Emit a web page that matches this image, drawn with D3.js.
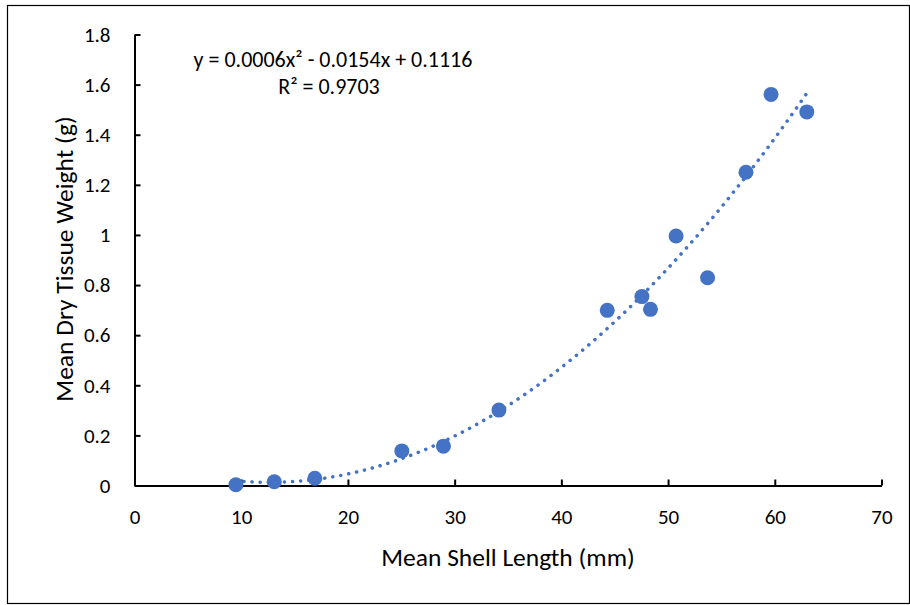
<!DOCTYPE html>
<html>
<head>
<meta charset="utf-8">
<script src="https://cdn.jsdelivr.net/npm/d3@7"></script>
<style>
  body { margin: 0; background: #fff; }
  text { font-family: Carlito, Calibri, Lato, sans-serif; fill: #000; }
</style>
</head>
<body>
<div id="chart"></div>
<script>
// shell length (mm) vs dry tissue weight (g)
var shellLength = [9.5, 13.1, 16.9, 25.05, 28.95, 34.15, 44.3, 47.55, 48.35, 50.75, 53.7, 57.3, 59.65, 63.0];
var tissueWeight = [0.003, 0.015, 0.029, 0.138, 0.157, 0.301, 0.699, 0.754, 0.703, 0.996, 0.829, 1.25, 1.561, 1.491];

var xTicks = [0, 10, 20, 30, 40, 50, 60, 70];
var yTicks = [0, 0.2, 0.4, 0.6, 0.8, 1, 1.2, 1.4, 1.6, 1.8];

var eqLine1 = "y = 0.0006x\u00B2 - 0.0154x + 0.1116";
var eqLine2 = "R\u00B2 = 0.9703";

var blue = "#4472C4";

var width = 910,
    height = 605;

var svg = d3.select('#chart')
    .append('svg')
    .attr('width', width)
    .attr('height', height);

// chart border
svg.append('rect')
    .attr('x', 7.5)
    .attr('y', 5.5)
    .attr('width', 902)
    .attr('height', 598)
    .attr('fill', 'none')
    .attr('stroke', '#000')
    .attr('stroke-width', 1.2);

var x = d3.scaleLinear().domain([0, 70]).range([134.5, 881.5]);
var y = d3.scaleLinear().domain([0, 1.8]).range([485.5, 34.5]);

/* axes, ticks point inwards like excel */
var xAxis = svg.append('g')
    .attr('transform', 'translate(0,' + y(0) + ')')
    .call(d3.axisBottom(x).tickValues(xTicks).tickSize(-6).tickSizeOuter(0).tickPadding(24));

var yAxis = svg.append('g')
    .attr('transform', 'translate(' + x(0) + ',0)')
    .call(d3.axisLeft(y).tickValues(yTicks).tickFormat(function(d) { return String(d); })
        .tickSize(-6).tickSizeOuter(0).tickPadding(24));

[xAxis, yAxis].forEach(function(a) {
    a.selectAll('.domain').attr('stroke', '#000').attr('stroke-width', 2);
    a.selectAll('.tick line').attr('stroke', '#000').attr('stroke-width', 2);
    a.selectAll('.tick text').style('font-size', '21px').attr('fill', '#000');
});

/* quadratic least squares trendline from the points */
var fitQuad = function(xs, ys) {
    var s = [0, 0, 0, 0, 0], t = [0, 0, 0];
    xs.forEach(function(xv, i) {
        for (var k = 0; k < 5; k++) s[k] += Math.pow(xv, k);
        for (var j = 0; j < 3; j++) t[j] += Math.pow(xv, j) * ys[i];
    });
    var m = [[s[0], s[1], s[2], t[0]], [s[1], s[2], s[3], t[1]], [s[2], s[3], s[4], t[2]]];
    for (var c = 0; c < 3; c++) {
        for (var r = c + 1; r < 3; r++) {
            var f = m[r][c] / m[c][c];
            for (var q = c; q < 4; q++) m[r][q] -= f * m[c][q];
        }
    }
    var b = [0, 0, 0];
    for (var r2 = 2; r2 >= 0; r2--) {
        var v = m[r2][3];
        for (var q2 = r2 + 1; q2 < 3; q2++) v -= m[r2][q2] * b[q2];
        b[r2] = v / m[r2][r2];
    }
    return b;
};

var coef = fitQuad(shellLength, tissueWeight);
var xMin = d3.min(shellLength), xMax = d3.max(shellLength);
var trend = d3.range(0, 101).map(function(i) {
    var xv = xMin + (xMax - xMin) * i / 100;
    return [xv, coef[0] + coef[1] * xv + coef[2] * xv * xv];
});

svg.append('path')
    .datum(trend)
    .attr('d', d3.line().x(function(d) { return x(d[0]); }).y(function(d) { return y(d[1]); }))
    .attr('fill', 'none')
    .attr('stroke', blue)
    .attr('stroke-width', 3.5)
    .attr('stroke-linecap', 'round')
    .attr('stroke-dasharray', '0.1 8');

svg.append('g')
    .selectAll('circle')
    .data(shellLength)
    .enter().append('circle')
    .attr('cx', function(d) { return x(d); })
    .attr('cy', function(d, i) { return y(tissueWeight[i]); })
    .attr('r', 7.5)
    .attr('fill', blue);

// equation label
svg.append('text')
    .attr('x', 333)
    .attr('y', 67)
    .attr('text-anchor', 'middle')
    .style('font-size', '22px')
    .text(eqLine1);

svg.append('text')
    .attr('x', 329)
    .attr('y', 94)
    .attr('text-anchor', 'middle')
    .style('font-size', '22px')
    .text(eqLine2);

// axis titles
svg.append('text')
    .attr('x', 508)
    .attr('y', 566)
    .attr('text-anchor', 'middle')
    .style('font-size', '25.5px')
    .text('Mean Shell Length (mm)');

svg.append('text')
    .attr('transform', 'translate(73,259) rotate(-90)')
    .attr('text-anchor', 'middle')
    .style('font-size', '25.5px')
    .text('Mean Dry Tissue Weight (g)');
</script>
</body>
</html>
